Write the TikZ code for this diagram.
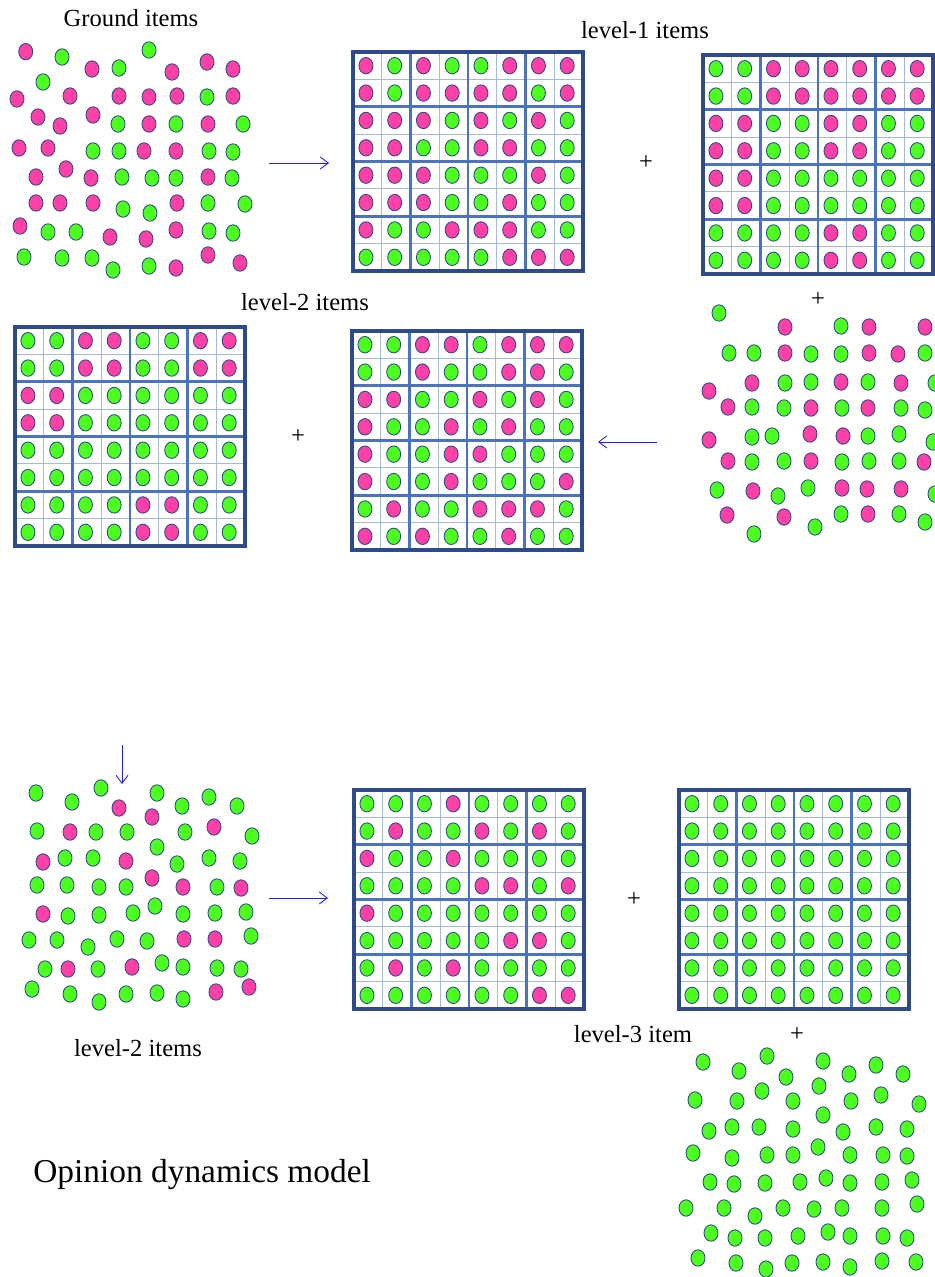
\documentclass[tikz,border=0pt]{standalone}
\usepackage{fontspec}
\setmainfont{Liberation Serif}
\usetikzlibrary{arrows.meta, positioning}
\definecolor{dotG}{HTML}{4DFF1F}
\definecolor{dotP}{HTML}{FF40A6}
\definecolor{rim}{HTML}{2F4A8A}
\definecolor{block}{HTML}{4A72C2}
\definecolor{cell}{HTML}{A3B8E2}
\definecolor{flowblue}{HTML}{2020F0}

% one 8x8 board of items, top left corner at (#1,#2), rows of G/P in #3
\newcommand{\itemgrid}[3]{%
  \begin{scope}[shift={(#1,#2)}]
    \foreach \i in {1,...,7}{
      \draw[cellrule] (\i*28.75,0) -- (\i*28.75,219);
      \draw[cellrule] (0,\i*27.375) -- (230,\i*27.375);
    }
    \foreach \i in {2,4,6}{
      \draw[blockrule] (\i*28.75,0) -- (\i*28.75,219);
      \draw[blockrule] (0,\i*27.375) -- (230,\i*27.375);
    }
    \foreach \row [count=\r from 0] in {#3}
      \foreach \c [count=\k from 0] in \row
        \filldraw[dot, fill=dot\c] ({(\k+0.45)*28.75},{(\r+0.5)*27.375}) ellipse [x radius=7, y radius=8.2];
    \draw[frame] (0,0) rectangle (230,219);
  \end{scope}}

\newcommand{\itemcloud}[1]{%
  \foreach \x/\y/\c in {#1}
    \filldraw[dot, fill=dot\c] (\x,\y) ellipse [x radius=7, y radius=8.2];}

\begin{document}
\begin{tikzpicture}[
  x=0.02cm, y=-0.02cm,
  font=\fontsize{14}{17}\selectfont,
  dot/.style={draw=rim, line width=0.5pt},
  cellrule/.style={draw=cell, line width=0.5pt},
  blockrule/.style={draw=block, line width=1.6pt},
  frame/.style={draw=rim, line width=2pt},
  flow/.style={-{Straight Barb[length=1.6mm, width=2.4mm]}, draw=flowblue, line width=0.5pt},
  lbl/.style={anchor=base, inner sep=0pt},
  plus/.style={inner sep=0pt},
  title/.style={anchor=base west, inner sep=0pt, font=\fontsize{19}{23}\selectfont}
]
\fill[white] (0,0) rectangle (935,1277);
\useasboundingbox (0,0) rectangle (935,1277);

% ground items
\itemcloud{25.7/51.7/P, 62/57/G, 149/50/G, 92/69/P, 119/68/G, 172/72/P, 207/62/P, 233/69/P,
  43/82/G, 17/99/P, 70/96/P, 119/96/P, 149/97/P, 177/96/P, 207/97/G, 233/96/P,
  38/117/P, 60/126/P, 93/115/P, 118/124/G, 149/124/P, 176/124/G, 208/124/P, 243/124/G,
  19/148/P, 48/148/P, 93/151/G, 119/151/G, 144/151/P, 176/151/P, 209/151/G, 233/152/G,
  36/177/P, 66/169/P, 91/178/P, 122/177/G, 152/178/G, 176/178/G, 208/177/P, 232/178/G,
  36/203/P, 60/203/P, 93/203/P, 123/209/G, 150/213/G, 177/203/P, 208/203/G, 245/204/G,
  20/226/P, 48/232/G, 76/232/G, 110/237/P, 146/239/P, 176/230/P, 209/231/G, 233/233/G,
  24/257/G, 62/258/G, 92/258/G, 113/270/G, 149/266/G, 176/268/P, 208/255/P, 240/263/P}

% level-1 boards
\itemgrid{353}{52}{{P,G,P,G,G,P,P,P},{P,G,P,P,P,P,G,P},{P,P,P,G,P,G,P,G},{P,P,G,G,P,P,G,G},
  {P,P,P,G,G,G,P,G},{P,P,P,G,G,P,G,G},{P,G,G,P,P,P,G,G},{G,G,G,G,G,P,P,P}}
\itemgrid{703}{55}{{G,G,P,P,P,P,P,P},{G,G,P,P,P,P,P,P},{P,P,G,G,P,P,G,G},{P,P,G,G,P,P,G,G},
  {P,P,G,G,G,G,G,G},{P,P,G,G,G,G,G,G},{G,G,G,G,P,P,G,G},{G,G,G,G,P,P,G,G}}

% level-1 cloud
\itemcloud{719/313/G, 785/327/P, 841/326/G, 869/327/P, 925/327/P,
  729/353/G, 754/353/G, 785/353/P, 811/354/G, 841/354/G, 869/353/P, 898/354/P, 925/353/G,
  709/391/P, 752/383/P, 785/383/G, 811/382/G, 841/382/P, 868/382/G, 901/383/P, 935/383/G,
  728/407/P, 752/407/G, 784/408/G, 811/408/P, 842/408/G, 868/408/P, 901/408/G, 925/410/G,
  709/440/P, 752/437/G, 772/436/G, 810/434/P, 843/436/P, 868/436/G, 899/434/G, 933/442/G,
  728/461/P, 752/462/G, 784/461/G, 811/461/P, 842/462/G, 869/461/G, 899/461/G, 924/462/P,
  717/490/G, 753/491/P, 778/496/G, 808/488/G, 842/488/P, 867/489/P, 901/489/P, 935/494/G,
  727/515/P, 784/517/P, 841/514/G, 868/514/P, 899/514/G, 925/522/G, 754/534/G, 815/527/G}

% level-2 boards
\itemgrid{15}{327}{{G,G,P,P,G,G,P,P},{G,G,P,P,G,G,P,P},{P,P,G,G,G,G,G,G},{P,P,G,G,G,G,G,G},
  {G,G,G,G,G,G,G,G},{G,G,G,G,G,G,G,G},{G,G,G,G,P,P,G,G},{G,G,G,G,P,P,G,G}}
\itemgrid{352}{331}{{G,G,P,P,G,P,P,P},{G,G,P,G,G,P,P,G},{P,P,G,G,P,G,P,G},{P,G,G,P,G,P,G,G},
  {P,G,G,P,P,G,G,G},{P,G,G,P,G,G,G,P},{G,P,G,G,P,P,P,G},{P,G,P,G,G,P,G,G}}

% level-2 cloud
\itemcloud{36/793/G, 72/802/G, 101/788/G, 119/808/P, 157/793/G, 152/817/P, 182/806/G, 209/797/G, 237/806/G,
  37/831/G, 70/832/P, 96/832/G, 127/832/G, 185/832/G, 214/827/P, 252/836/G, 157/847/G,
  43/862/P, 65/858/G, 93/858/G, 126/861/P, 177/864/G, 209/858/G, 240/861/G,
  37/885/G, 67/885/G, 99/887/G, 126/887/G, 152/878/P, 183/887/P, 217/887/G, 241/888/P,
  43/914/P, 68/916/G, 99/915/G, 133/913/G, 155/906/G, 183/914/G, 215/913/G, 246/912/G,
  29/940/G, 57/940/G, 88/947/G, 117/939/G, 147/941/G, 184/939/P, 215/939/P, 251/936/G,
  45/969/G, 68/969/P, 98/969/G, 132/967/P, 162/963/G, 183/967/G, 217/968/G, 241/969/G,
  32/989/G, 70/994/G, 99/1002/G, 126/994/G, 157/993/G, 183/999/G, 216/992/P, 249/987/P}

% level-3 boards
\itemgrid{354}{790}{{G,G,G,P,G,G,G,G},{G,P,G,G,P,G,P,G},{P,G,G,P,G,G,G,G},{G,G,G,G,P,P,G,P},
  {P,G,G,G,G,G,G,G},{G,G,G,G,G,P,P,G},{G,P,G,P,G,G,G,G},{G,G,G,G,G,G,P,P}}
\itemgrid{679}{790}{{G,G,G,G,G,G,G,G},{G,G,G,G,G,G,G,G},{G,G,G,G,G,G,G,G},{G,G,G,G,G,G,G,G},
  {G,G,G,G,G,G,G,G},{G,G,G,G,G,G,G,G},{G,G,G,G,G,G,G,G},{G,G,G,G,G,G,G,G}}

% level-3 cloud
\itemcloud{703/1062/G, 739/1071/G, 767/1056/G, 786/1077/G, 823/1061/G, 849/1074/G, 876/1065/G, 903/1074/G,
  695/1100/G, 737/1101/G, 762/1091/G, 793/1101/G, 819/1086/G, 851/1101/G, 881/1095/G, 919/1104/G, 823/1115/G,
  709/1131/G, 732/1127/G, 759/1127/G, 793/1129/G, 843/1132/G, 876/1127/G, 907/1129/G,
  693/1153/G, 732/1158/G, 767/1155/G, 793/1155/G, 818/1147/G, 850/1155/G, 883/1155/G, 907/1156/G,
  710/1182/G, 734/1184/G, 765/1183/G, 800/1182/G, 826/1178/G, 850/1183/G, 882/1182/G, 912/1180/G,
  686/1208/G, 724/1208/G, 755/1216/G, 783/1208/G, 814/1209/G, 842/1208/G, 882/1208/G, 917/1204/G,
  711/1233/G, 735/1238/G, 765/1238/G, 798/1236/G, 828/1232/G, 850/1236/G, 883/1236/G, 907/1238/G,
  698/1258/G, 736/1263/G, 766/1269/G, 792/1263/G, 823/1262/G, 850/1267/G, 882/1261/G, 916/1262/G}

% labels
\node[lbl] (ground) at (131,27) {Ground items};
\node[lbl] (levA)   at (645,39) {level-1 items};
\node[lbl] (levB)   at (305,310) {level-2 items};
\node[lbl] (levC)   at (138,1056) {level-2 items};
\node[lbl] (levD)   at (633,1042) {level-3 item};
\node[title] (model) at (33,1182) {Opinion dynamics model};

\node[plus] (plusA) at (646,163) {+};
\node[plus] (plusB) at (818,300) {+};
\node[plus] (plusC) at (298,437) {+};
\node[plus] (plusD) at (634,900) {+};
\node[plus] (plusE) at (797,1035) {+};

% arrows between the stages
\coordinate (upS) at (269,163);  \coordinate (upE) at (329,163);
\coordinate (backS) at (657,442); \coordinate (backE) at (598,442);
\coordinate (downS) at (122,745); \coordinate (downE) at (122,784);
\coordinate (lowS) at (269,898);  \coordinate (lowE) at (328,898);
\draw[flow] (upS) -- (upE);
\draw[flow] (backS) -- (backE);
\draw[flow] (downS) -- (downE);
\draw[flow] (lowS) -- (lowE);

\end{tikzpicture}
\end{document}
